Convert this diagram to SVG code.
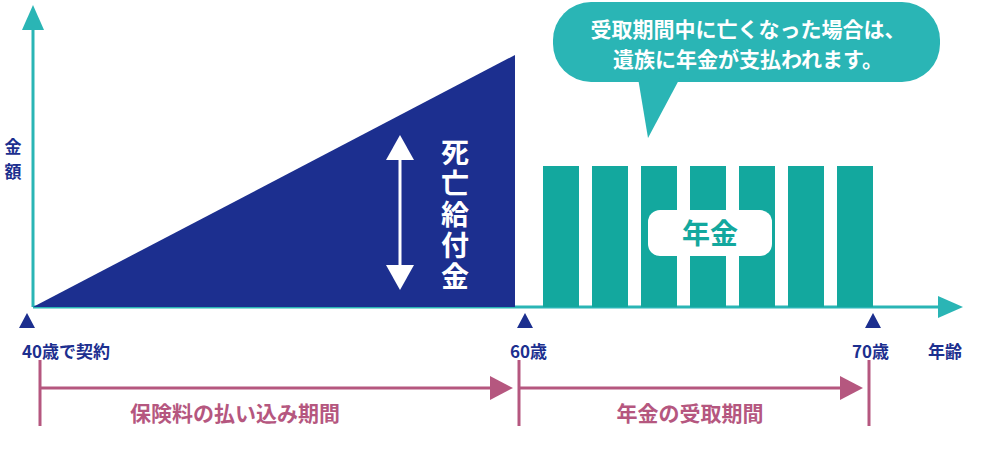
<svg xmlns="http://www.w3.org/2000/svg" width="987" height="450" viewBox="0 0 987 450">
<style>
text{font-family:"Noto Sans CJK JP","Noto Sans",sans-serif;font-weight:bold}
.lab{font-size:17px;fill:#1c2f8f}
.pk{stroke:#b5577f;stroke-width:3;fill:none}
.pt{font-size:21px;fill:#b5577f}
.bar{fill:#13a89e}
.mk{fill:#1c2f8f}
</style>
<rect width="987" height="450" fill="#fff"/>
<g id="axes">
<line x1="33" y1="307" x2="33" y2="25" stroke="#2ab5b5" stroke-width="3"/>
<polygon points="22,30 33,5 44,30" fill="#2ab5b5"/>
<line x1="33" y1="307" x2="945" y2="307" stroke="#2ab5b5" stroke-width="3"/>
<polygon points="938,296 963,307 938,318" fill="#2ab5b5"/>
</g>
<g id="death">
<polygon points="33,307 515,55 515,307" fill="#1c2f8f"/>
<line x1="400" y1="155" x2="400" y2="270" stroke="#fff" stroke-width="3"/>
<polygon points="386,160 400,135 414,160" fill="#fff"/>
<polygon points="386,265 400,290 414,265" fill="#fff"/>
<text font-size="28" fill="#fff" x="455" y="138" writing-mode="vertical-rl" letter-spacing="3">死亡給付金</text>
</g>
<g id="pension">
<rect class="bar" x="543" y="166" width="36" height="141"/>
<rect class="bar" x="592" y="166" width="36" height="141"/>
<rect class="bar" x="641" y="166" width="36" height="141"/>
<rect class="bar" x="690" y="166" width="36" height="141"/>
<rect class="bar" x="739" y="166" width="36" height="141"/>
<rect class="bar" x="788" y="166" width="36" height="141"/>
<rect class="bar" x="837" y="166" width="36" height="141"/>
<rect x="648" y="210" width="124" height="46" rx="12" fill="#fff"/>
<text x="710" y="244" font-size="28" fill="#13a89e" text-anchor="middle">年金</text>
</g>
<g id="bubble">
<rect x="553" y="2" width="387" height="80" rx="38" fill="#2ab5b5"/>
<polygon points="638,78 680,78 648,138" fill="#2ab5b5"/>
<text font-size="21" fill="#fff" text-anchor="middle"><tspan x="748" y="37">受取期間中に亡くなった場合は、</tspan><tspan x="748" y="67">遺族に年金が支払われます。</tspan></text>
</g>
<g id="labels">
<polygon class="mk" points="19,328 27,313 35,328"/>
<polygon class="mk" points="517,328 525,313 533,328"/>
<polygon class="mk" points="865,328 873,313 881,328"/>
<text class="lab" x="22" y="358">40歳で契約</text>
<text class="lab" x="510" y="358">60歳</text>
<text class="lab" x="852" y="358">70歳</text>
<text class="lab" x="928" y="358">年齢</text>
<text class="lab" x="13" y="138" writing-mode="vertical-rl" letter-spacing="8">金額</text>
</g>
<g id="periods">
<line class="pk" x1="40" y1="360" x2="40" y2="426"/>
<line class="pk" x1="40" y1="388" x2="492" y2="388"/>
<polygon points="490,376 513,388 490,400" fill="#b5577f"/>
<line class="pk" x1="519" y1="360" x2="519" y2="426"/>
<line class="pk" x1="519" y1="388" x2="842" y2="388"/>
<polygon points="840,376 863,388 840,400" fill="#b5577f"/>
<line class="pk" x1="869" y1="360" x2="869" y2="426"/>
<text class="pt" x="235" y="421" text-anchor="middle">保険料の払い込み期間</text>
<text class="pt" x="690" y="421" text-anchor="middle">年金の受取期間</text>
</g>
</svg>
